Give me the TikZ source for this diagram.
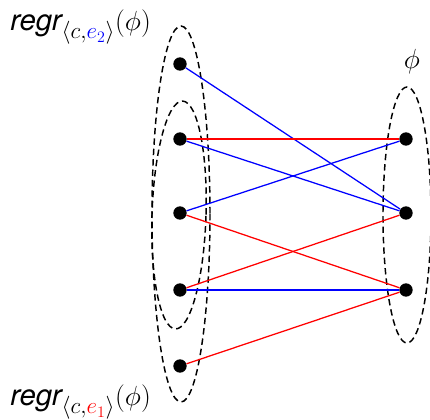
\documentclass[tikz,border=0pt]{standalone}
\usepackage{fontspec}
\newfontfamily\heros{TeX Gyre Heros}
\DeclareMathSizes{22}{22}{16}{12}
\begin{document}
\begin{tikzpicture}[x=0.75pt,y=-0.75pt,
  dot/.style={circle,fill=black,inner sep=0pt,minimum size=10pt},
  edgeb/.style={blue,line width=0.95pt},
  edger/.style={red,line width=0.95pt},
  group/.style={draw=black,line width=1.1pt,dash pattern=on 4.8pt off 3pt},
  lab/.style={inner sep=0pt,font=\fontsize{22}{26}\selectfont}]
\useasboundingbox (0,0) rectangle (430,420);
% groups
\draw[group] (181,214) ellipse [x radius=29, y radius=188];
\draw[group,rotate around={-1.8:(179,215)}] (179,215) ellipse [x radius=27, y radius=114];
\draw[group] (407,215) ellipse [x radius=24, y radius=128];
% nodes
\node[dot] (l1) at (180,64) {};
\node[dot] (l2) at (180,139) {};
\node[dot] (l3) at (180,213) {};
\node[dot] (l4) at (180,290) {};
\node[dot] (l5) at (180,366) {};
\node[dot] (r1) at (406,139) {};
\node[dot] (r2) at (406,213) {};
\node[dot] (r3) at (406,290) {};
% edges
\draw[edgeb] (l1) -- (r2);
\draw[edgeb] (l2) -- (r2);
\draw[edgeb] (l3) -- (r1);
\draw[edgeb] (l4) -- (r3);
\draw[edger] (l2) -- (r1);
\draw[edger] (l3) -- (r3);
\draw[edger] (l4) -- (r2);
\draw[edger] (l5) -- (r3);
% labels
\node[lab,anchor=base west] (top) at (10,31) {{\heros\itshape regr}$_{\langle c,\textcolor{blue}{e_2}\rangle}(\phi)$};
\node[lab,anchor=base west] (bot) at (10,406) {{\heros\itshape regr}$_{\langle c,\textcolor{red}{e_1}\rangle}(\phi)$};
\node[lab] (phi) at (412,62) {$\phi$};
\end{tikzpicture}
\end{document}
